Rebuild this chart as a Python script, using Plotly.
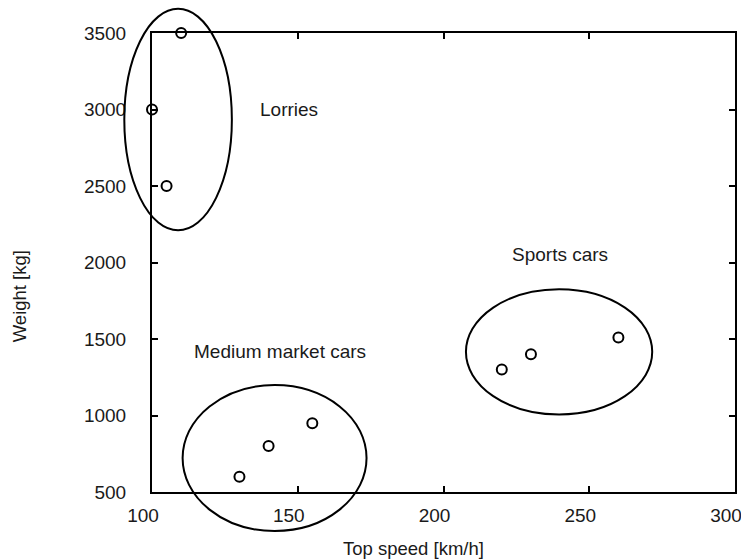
"""
Top speed vs weight of vehicles, grouped into three clusters.
"""

import plotly.graph_objects as go

# ── Data ────────────────────────────────────────────────────────
top_speed = [110, 100, 105, 130, 140, 155, 220, 230, 260]
weight = [3500, 3000, 2500, 600, 800, 950, 1300, 1400, 1510]

group_names = ["Lorries", "Medium market cars", "Sports cars"]
label_x = [147, 144, 240]
label_y = [3000, 1420, 2055]

# cluster ellipses as data bounds: x0, x1, y0, y1
ellipse_x0 = [90.5, 110.5, 207.7]
ellipse_x1 = [127.4, 173.6, 271.6]
ellipse_y0 = [2210, 245, 1007]
ellipse_y1 = [3658, 1199, 1825]

X_RANGE = [100, 300]
Y_RANGE = [500, 3500]
X_TICKS = [100, 150, 200, 250, 300]
Y_TICKS = [500, 1000, 1500, 2000, 2500, 3000, 3500]

FONT = "Liberation Sans, Arial, sans-serif"
TEXT = "#1a1a1a"


def _px(v, rng):
    """Data value -> paper fraction (used so ellipses are not clipped)."""
    return (v - rng[0]) / (rng[1] - rng[0])


fig = go.Figure()

fig.add_trace(go.Scatter(
    x=top_speed,
    y=weight,
    mode="markers",
    marker=dict(symbol="circle-open", size=10, color="black", line=dict(width=2)),
    cliponaxis=False,
    showlegend=False,
))

for i in range(len(group_names)):
    fig.add_shape(
        type="circle",
        xref="paper", yref="paper",
        x0=_px(ellipse_x0[i], X_RANGE), x1=_px(ellipse_x1[i], X_RANGE),
        y0=_px(ellipse_y0[i], Y_RANGE), y1=_px(ellipse_y1[i], Y_RANGE),
        line=dict(color="black", width=2),
    )
    fig.add_annotation(
        x=label_x[i], y=label_y[i], text=group_names[i],
        showarrow=False, font=dict(size=19, color=TEXT),
    )

# axis titles sit off-centre in the original, so place them by hand
fig.add_annotation(
    x=0.4485, y=-0.1227, xref="paper", yref="paper",
    xanchor="center", yanchor="middle",
    text="Top speed [km/h]", showarrow=False, font=dict(size=18.5, color=TEXT),
)
fig.add_annotation(
    x=-0.228, y=0.4266, xref="paper", yref="paper",
    xanchor="center", yanchor="middle",
    text="Weight [kg]", textangle=-90, showarrow=False,
    font=dict(size=18.5, color=TEXT),
)

axis_common = dict(
    showgrid=False,
    zeroline=False,
    showline=True,
    linecolor="black",
    linewidth=2,
    mirror="ticks",
    ticks="inside",
    ticklen=6,
    tickwidth=2,
    tickcolor="black",
    tickfont=dict(size=19, color=TEXT),
    automargin=False,
)

fig.update_xaxes(range=X_RANGE, tickvals=X_TICKS, ticklabelstandoff=5,
                 ticklabelshift=-9, ticklabeloverflow="allow", **axis_common)
fig.update_yaxes(range=Y_RANGE, tickvals=Y_TICKS, ticklabelstandoff=20,
                 **axis_common)

fig.update_layout(
    width=741,
    height=559,
    paper_bgcolor="white",
    plot_bgcolor="white",
    font=dict(family=FONT, color=TEXT),
    margin=dict(l=152, r=6, t=33, b=67),
    showlegend=False,
)

# drop the default body margin so the figure sits at the window's corner
fig.write_html(
    "out.html",
    config={"displayModeBar": False},
    post_script="document.body.style.margin = '0';",
)
